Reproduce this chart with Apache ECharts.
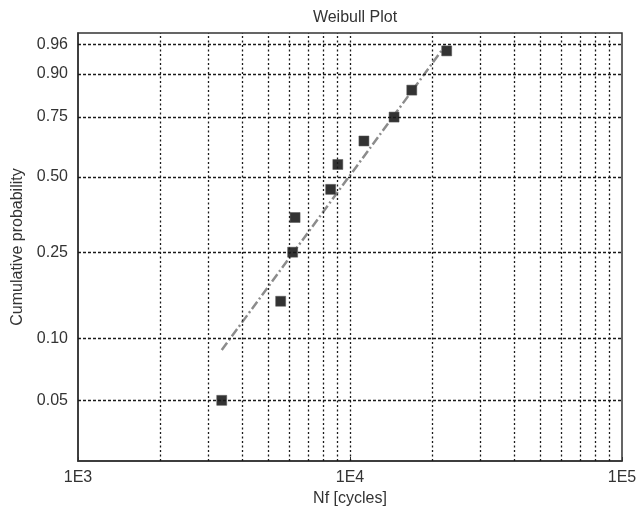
<!DOCTYPE html>
<html>
<head>
<meta charset="utf-8">
<script src="https://cdn.jsdelivr.net/npm/echarts@6/dist/echarts.min.js"></script>
<style>html,body{margin:0;padding:0;background:#fff}#c{width:639px;height:506px}</style>
</head>
<body>
<div id="c"></div>
<script>
// ---- data ----
const yTicks = [0.05, 0.10, 0.25, 0.50, 0.75, 0.90, 0.96];
const xMinorGrid = [2000, 3000, 4000, 5000, 6000, 7000, 8000, 9000, 10000, 20000, 30000, 40000, 50000, 60000, 70000, 80000, 90000];
const xTickLabels = ['1E3', '1E4', '1E5'];
const cycles = [3376, 5560, 6153, 6282, 8490, 9020, 11250, 14520, 16870, 22670];
const probability = [0.05, 0.15, 0.25, 0.35, 0.45, 0.55, 0.65, 0.75, 0.85, 0.95];
const fitCycles = [3376, 22340];
const fitProbability = [0.088, 0.958];
const probRange = [0.025, 0.975];

// Weibull probability transform
const W = p => Math.log(-Math.log(1 - p));
const invW = w => 1 - Math.exp(-Math.exp(w));

const font = 'Liberation Sans, Arial, sans-serif';
const txt = '#333';

const chart = echarts.init(document.getElementById('c'), null, {renderer: 'canvas'});
chart.setOption({
  animation: false,
  title: {
    text: 'Weibull Plot', left: 350, textAlign: 'center', top: 5,
    textStyle: {fontFamily: font, fontSize: 16, fontWeight: 'normal', color: txt}
  },
  grid: {
    left: 78, right: 17, top: 33, bottom: 45, containLabel: false, outerBoundsMode: 'none',
    show: true, borderColor: '#333', borderWidth: 1.5, backgroundColor: 'transparent'
  },
  xAxis: {
    type: 'log', logBase: 10, min: 1000, max: 100000,
    name: 'Nf [cycles]', nameLocation: 'middle', nameGap: 29,
    nameTextStyle: {fontFamily: font, fontSize: 16, color: txt},
    axisLine: {show: true, onZero: false, lineStyle: {color: '#333', width: 1.5}},
    axisTick: {show: true, inside: true, length: 4, lineStyle: {color: '#333'}},
    splitLine: {show: false},
    axisLabel: {
      fontFamily: font, fontSize: 16, color: txt, margin: 9,
      formatter: v => xTickLabels[Math.round(Math.log10(v)) - 3]
    }
  },
  yAxis: {
    type: 'value', min: W(probRange[0]), max: W(probRange[1]),
    name: 'Cumulative probability', nameLocation: 'middle', nameGap: 52,
    nameTextStyle: {fontFamily: font, fontSize: 16, color: txt},
    axisLine: {show: true, onZero: false, lineStyle: {color: '#333', width: 1.5}},
    axisTick: {show: false},
    splitLine: {show: false},
    axisLabel: {
      fontFamily: font, fontSize: 16, color: txt, margin: 10,
      customValues: yTicks.map(W),
      formatter: v => invW(v).toFixed(2)
    }
  },
  series: [
    {
      type: 'line', data: [], z: 1, silent: true,
      markLine: {
        silent: true, symbol: ['none', 'none'], label: {show: false}, animation: false,
        data: [
          ...xMinorGrid.map(x => ({xAxis: x, lineStyle: {color: '#1a1a1a', width: 1.3, type: [2, 2.5]}})),
          ...yTicks.map(p => ({yAxis: W(p), lineStyle: {color: '#1a1a1a', width: 1.3, type: [3, 2]}}))
        ]
      }
    },
    {
      type: 'line', z: 2, silent: true, symbol: 'none',
      data: fitCycles.map((x, i) => [x, W(fitProbability[i])]),
      lineStyle: {color: '#8c8c8c', width: 2.5, type: [9, 3, 2, 3]}
    },
    {
      type: 'scatter', z: 3, symbol: 'rect', symbolSize: 10,
      data: cycles.map((x, i) => [x, W(probability[i])]),
      itemStyle: {color: '#333', borderColor: '#555', borderWidth: 0.5, opacity: 1}
    }
  ]
});
</script>
</body>
</html>
